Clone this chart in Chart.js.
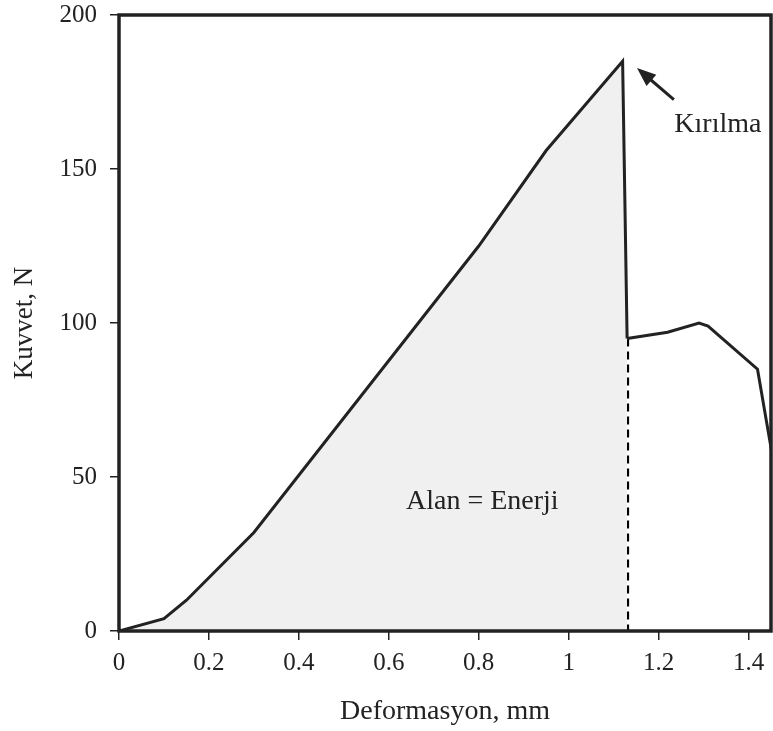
<!DOCTYPE html>
<html>
<head>
<meta charset="utf-8">
<script src="https://cdn.jsdelivr.net/npm/chart.js@4"></script>
<style>
  body { margin: 0; background: #fff; }
</style>
</head>
<body>
<canvas id="myChart" width="773" height="731"></canvas>
<script>
// load curve up to the break (shaded area)
var loadX = [0, 0.1, 0.15, 0.3, 0.8, 0.95, 1.12, 1.13];
var loadY = [0, 4, 10, 32, 125, 156, 185, 95];
// after the break
var afterX = [1.13, 1.22, 1.29, 1.31, 1.42, 1.46];
var afterY = [95, 97, 100, 99, 85, 51];
// dashed line at the break
var breakX = [1.13, 1.13];
var breakY = [95, 0];

var xTicks = [0, 0.2, 0.4, 0.6, 0.8, 1, 1.2, 1.4];
var yTicks = [0, 50, 100, 150, 200];

var ink = "#222";
var serif = "'Liberation Serif', 'Times New Roman', serif";

function toPoints(xs, ys) {
  var pts = [];
  for (var i = 0; i < xs.length; i++) {
    pts.push({ x: xs[i], y: ys[i] });
  }
  return pts;
}

// frame round the plot + text labels
var extras = {
  id: "extras",
  afterDatasetsDraw: function (chart) {
    var ctx = chart.ctx;
    var a = chart.chartArea;
    var xs = chart.scales.x, ys = chart.scales.y;
    ctx.save();
    ctx.strokeStyle = ink;
    ctx.lineWidth = 3.5;
    ctx.strokeRect(a.left, a.top, a.right - a.left, a.bottom - a.top);

    ctx.fillStyle = ink;
    ctx.font = "28px " + serif;
    ctx.textAlign = "center";
    ctx.textBaseline = "middle";
    ctx.fillText("Alan = Enerji", xs.getPixelForValue(0.808), ys.getPixelForValue(42));

    ctx.textAlign = "left";
    ctx.fillText("Kırılma", xs.getPixelForValue(1.235), ys.getPixelForValue(164.5));

    // arrow
    var x1 = xs.getPixelForValue(1.234), y1 = ys.getPixelForValue(172.5);
    var x2 = xs.getPixelForValue(1.152), y2 = ys.getPixelForValue(182.8);
    var ang = Math.atan2(y2 - y1, x2 - x1);
    ctx.lineWidth = 3;
    ctx.beginPath();
    ctx.moveTo(x1, y1);
    ctx.lineTo(x2 - 10 * Math.cos(ang), y2 - 10 * Math.sin(ang));
    ctx.stroke();
    ctx.beginPath();
    ctx.moveTo(x2, y2);
    ctx.lineTo(x2 - 19 * Math.cos(ang) + 7.5 * Math.sin(ang), y2 - 19 * Math.sin(ang) - 7.5 * Math.cos(ang));
    ctx.lineTo(x2 - 19 * Math.cos(ang) - 7.5 * Math.sin(ang), y2 - 19 * Math.sin(ang) + 7.5 * Math.cos(ang));
    ctx.closePath();
    ctx.fill();
    ctx.restore();
  }
};

new Chart("myChart", {
  type: "scatter",
  data: {
    datasets: [
      {
        data: toPoints(loadX, loadY),
        showLine: true,
        fill: "origin",
        backgroundColor: "#f0f0f0",
        borderColor: ink,
        borderWidth: 3,
        pointRadius: 0
      },
      {
        data: toPoints(afterX, afterY),
        showLine: true,
        borderColor: ink,
        borderWidth: 3,
        pointRadius: 0
      },
      {
        data: toPoints(breakX, breakY),
        showLine: true,
        borderColor: "#000",
        borderWidth: 4,
        borderDash: [8, 5],
        pointRadius: 0
      }
    ]
  },
  options: {
    responsive: false,
    animation: false,
    layout: { padding: { top: 15, right: 2, left: 0, bottom: 0 } },
    plugins: {
      legend: { display: false },
      tooltip: { enabled: false }
    },
    scales: {
      x: {
        type: "linear",
        min: 0,
        max: 1.45,
        afterFit: function (s) { s.height = 100; s.paddingRight = 0; s.paddingLeft = 0; },
        afterBuildTicks: function (s) {
          s.ticks = xTicks.map(function (v) { return { value: v }; });
        },
        grid: { drawOnChartArea: false, tickLength: 9, color: ink, lineWidth: 1.5 },
        border: { display: false },
        ticks: {
          color: ink,
          padding: 8,
          maxRotation: 0,
          font: { family: serif, size: 25 },
          callback: function (v) { return String(v); }
        },
        title: {
          display: true,
          text: "Deformasyon, mm",
          color: ink,
          padding: { top: 0, bottom: 3 },
          font: { family: serif, size: 28 }
        }
      },
      y: {
        min: 0,
        max: 200,
        afterFit: function (s) { s.width = 119; s.paddingTop = 0; s.paddingBottom = 0; },
        afterBuildTicks: function (s) {
          s.ticks = yTicks.map(function (v) { return { value: v }; });
        },
        grid: { drawOnChartArea: false, tickLength: 9, color: ink, lineWidth: 1.5 },
        border: { display: false },
        ticks: {
          color: ink,
          padding: 13,
          font: { family: serif, size: 25 }
        },
        title: {
          display: true,
          text: "Kuvvet, N",
          color: ink,
          padding: { top: 9, bottom: 0 },
          font: { family: serif, size: 27 }
        }
      }
    }
  },
  plugins: [extras]
});
</script>
</body>
</html>
